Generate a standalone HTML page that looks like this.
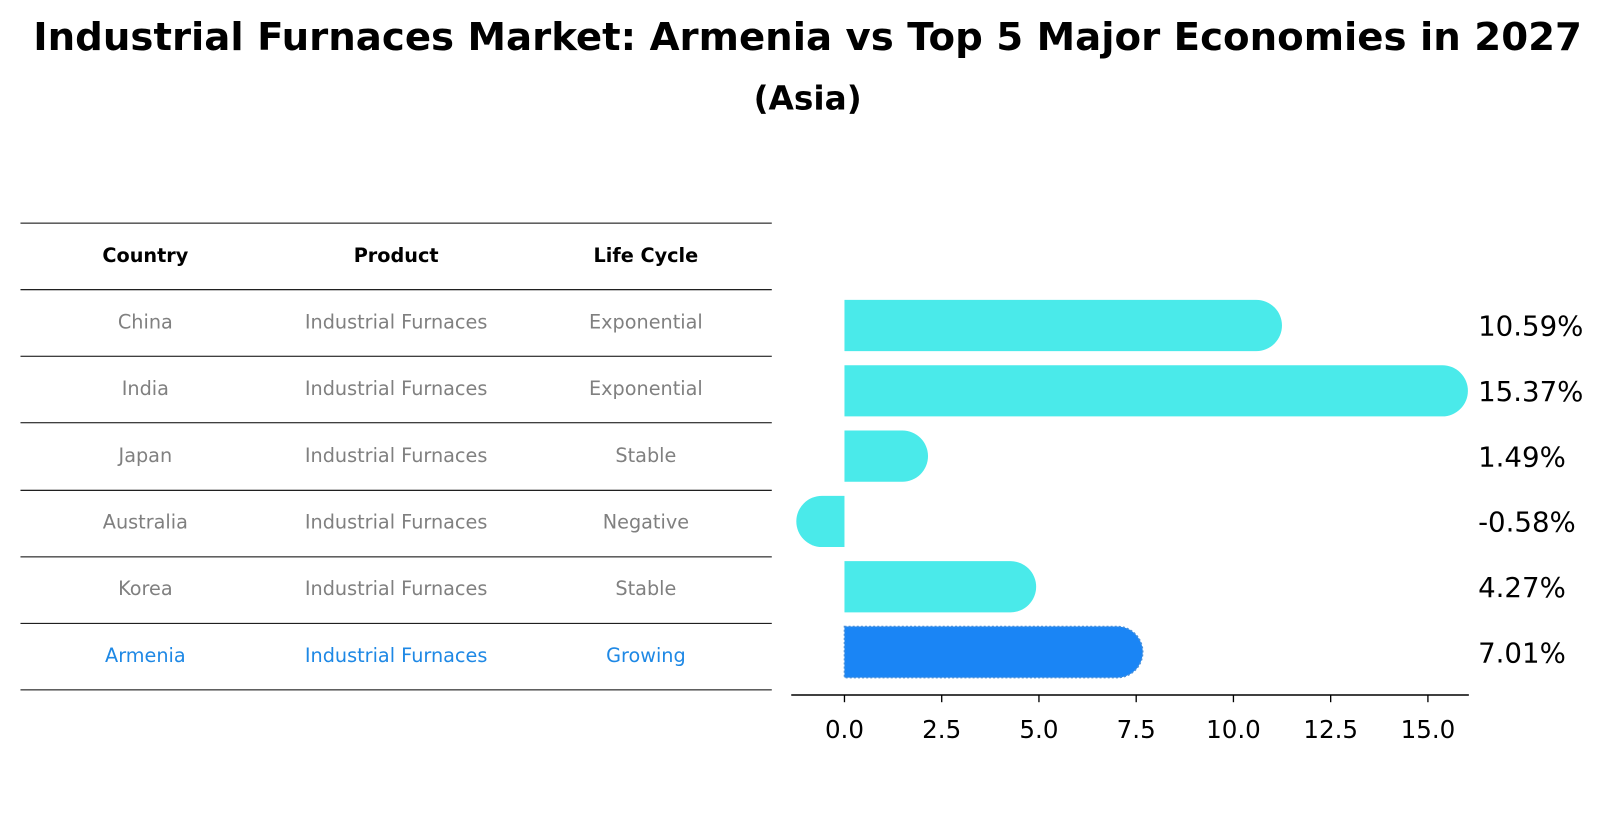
<!DOCTYPE html>
<html><head><meta charset="utf-8"><style>
body{margin:0;background:#fff;font-family:"Liberation Sans","DejaVu Sans",sans-serif;overflow:hidden;}
svg{display:block;}
svg text{font-family:"DejaVu Sans","Liberation Sans",sans-serif;}
</style></head><body>
<svg id="c" width="1605" height="823" viewBox="0 0 1568 804">
<text x="789" y="49" text-anchor="middle" font-size="37.8" font-weight="bold">Industrial Furnaces Market: Armenia vs Top 5 Major Economies in 2027</text>
<text x="789" y="107" text-anchor="middle" font-size="32" font-weight="bold">(Asia)</text>
<g id="table"></g>
<g id="bars"></g>
</svg>
<script>
const countries=["China","India","Japan","Australia","Korea","Armenia"];
const products=["Industrial Furnaces","Industrial Furnaces","Industrial Furnaces","Industrial Furnaces","Industrial Furnaces","Industrial Furnaces"];
const lifeCycles=["Exponential","Exponential","Stable","Negative","Stable","Growing"];
const growth=[10.59,15.37,1.49,-0.58,4.27,7.01];
const xTicks=[0,2.5,5,7.5,10,12.5,15];
const NS="http://www.w3.org/2000/svg";
function mk(t,a,p){const e=document.createElementNS(NS,t);for(const k in a)e.setAttribute(k,a[k]);p.appendChild(e);return e;}
const tb=document.getElementById('table');
const lineYs=[218,283,348,413,479,544,609,674];
lineYs.forEach(y=>{const l=mk('line',{x1:20,x2:754,y1:y,y2:y,stroke:'#000','stroke-width':1},tb);

});
const cx=[142,387,631];
["Country","Product","Life Cycle"].forEach((h,i)=>{const t=mk('text',{x:cx[i],y:256,'text-anchor':'middle','font-size':18.8,'font-weight':'bold'},tb);t.textContent=h;

});
countries.forEach((c,r)=>{const y=321+r*65.1;const col=c==="Armenia"?"#1e88e5":"#808080";
[c,products[r],lifeCycles[r]].forEach((v,i)=>{const t=mk('text',{x:cx[i],y:y,'text-anchor':'middle','font-size':18.8,fill:col},tb);t.textContent=v;

});});
const bg=document.getElementById('bars');
const x0=825,sc=38;const X=v=>x0+v*sc;
const rowY=i=>318+i*63.8;const R=25;
growth.forEach((v,i)=>{const yc=rowY(i);const arm=countries[i]==="Armenia";const fill=arm?"#1a85f5":"#4aeaea";
const xe=X(v);let d;
if(v>=0){d=`M${x0},${yc-R}H${xe}A${R},${R} 0 0 1 ${xe},${yc+R}H${x0}Z`;}
else{d=`M${x0},${yc-R}H${xe}A${R},${R} 0 0 0 ${xe},${yc+R}H${x0}Z`;}
const p=mk('path',{d:d,fill:fill},bg);
if(arm){p.setAttribute('stroke','#4a90d9');p.setAttribute('stroke-dasharray','2,2');p.setAttribute('stroke-width','1.5');}


const t=mk('text',{x:1444,y:yc+10,'font-size':27},bg);t.textContent=v.toFixed(2)+'%';

});
const ax=mk('line',{x1:773,x2:1435,y1:679,y2:679,stroke:'#000','stroke-width':1.5},bg);


xTicks.forEach(v=>{const tk=mk('line',{x1:X(v),x2:X(v),y1:679,y2:686,stroke:'#000','stroke-width':1.3},bg);


const t=mk('text',{x:X(v),y:721,'text-anchor':'middle','font-size':24},bg);t.textContent=v.toFixed(1);

});
</script>
</body></html>
